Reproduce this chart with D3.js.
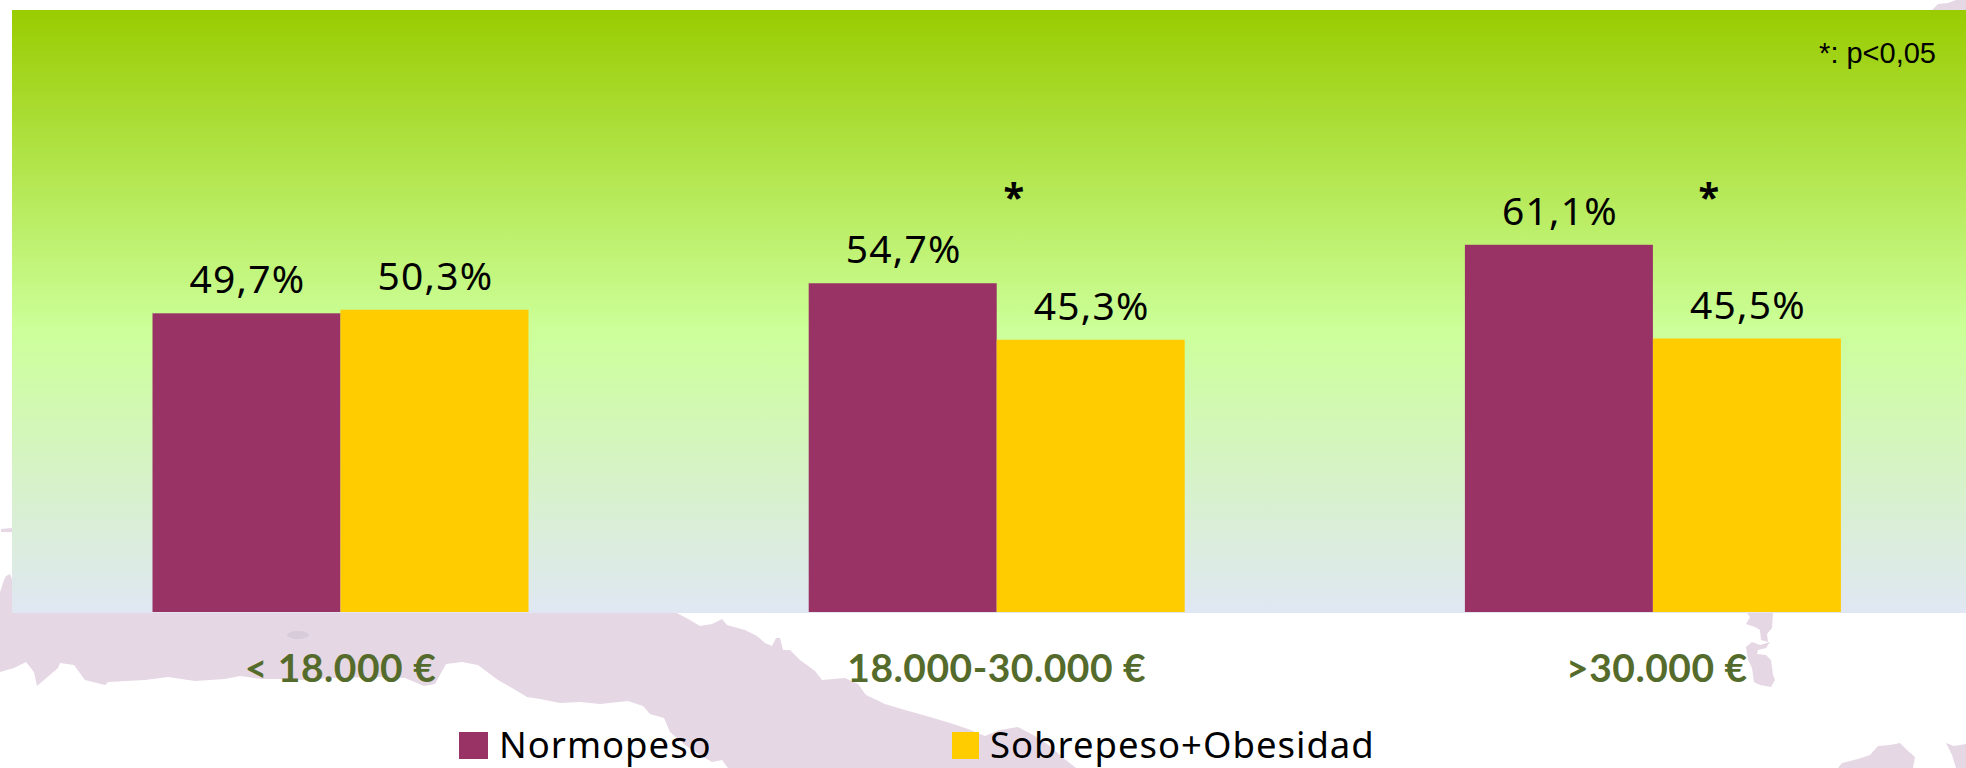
<!DOCTYPE html>
<html>
<head>
<meta charset="utf-8">
<script src="https://cdn.jsdelivr.net/npm/d3@7"></script>
<style>
	html, body { margin: 0; padding: 0; background: #fff; overflow: hidden; }
	svg { display: block; }
</style>
</head>
<body>
<div id="chart"></div>
<script>
const categories = ["< 18.000 €", "18.000-30.000 €", ">30.000 €"];
const seriesNames = ["Normopeso", "Sobrepeso+Obesidad"];
const normopeso = [49.7, 54.7, 61.1];
const sobrepeso = [50.3, 45.3, 45.5];
const seriesColors = ["#993366", "#FFCC00"];
const significant = ["18.000-30.000 €", ">30.000 €"];
const noteText = "*: p<0,05";

const width = 1966;
const height = 768;
const plotLeft = 12;
const plotTop = 10;
const plotBottom = 613;
const barBase = 612;

// watermark map behind the chart, traced by hand
const mapShapes = [
	[[0,592],[4,580],[6,576],[10,574],[13,582],[14,613],[677,613],[690,620],[700,626],[712,624],[722,619],[727,625],[745,630],[757,636],[765,643],[772,646],[776,638],[780,638],[783,650],[790,650],[800,660],[815,671],[822,680],[845,678],[858,684],[866,695],[885,704],[905,710],[930,717],[950,723],[968,729],[985,736],[1000,730],[1018,727],[1035,736],[1050,746],[1062,757],[1076,768],[728,768],[722,760],[712,762],[700,755],[685,745],[670,732],[664,718],[650,714],[643,706],[628,701],[600,704],[580,702],[560,703],[540,699],[527,697],[512,688],[498,680],[490,674],[478,665],[462,662],[446,664],[435,684],[424,686],[405,678],[380,677],[330,678],[305,680],[285,679],[262,679],[240,676],[225,679],[195,681],[168,677],[145,680],[108,682],[105,685],[85,680],[74,665],[60,663],[58,668],[44,680],[37,686],[34,672],[26,662],[14,668],[0,672]],
	[[1746,624],[1750,617],[1747,613],[1773,613],[1772,628],[1767,634],[1768,642],[1761,640],[1760,630],[1755,627]],
	[[1746,647],[1752,642],[1760,645],[1770,642],[1766,648],[1758,650],[1757,654],[1766,655],[1771,660],[1773,675],[1775,680],[1771,687],[1760,685],[1754,682],[1752,668],[1748,660]],
	[[1838,768],[1842,763],[1858,759],[1870,755],[1878,746],[1890,745],[1900,743],[1907,750],[1915,757],[1913,768]],
	[[1946,743],[1954,746],[1966,744],[1966,768],[1956,768],[1952,755]],
	[[1932,10],[1938,4],[1948,3],[1956,0],[1966,0],[1966,10]],
	[[1,529],[12,528],[12,532],[1,532]]
];

const svg = d3.select("#chart").append("svg")
	.attr("width", width)
	.attr("height", height);

const defs = svg.append("defs");

const bg = defs.append("linearGradient")
	.attr("id", "plotBg")
	.attr("x1", 0).attr("y1", 0)
	.attr("x2", 0).attr("y2", 1);
bg.append("stop").attr("offset", 0).attr("stop-color", "#99CC00");
bg.append("stop").attr("offset", 0.53).attr("stop-color", "#CCFF99");
bg.append("stop").attr("offset", 1).attr("stop-color", "#E0E7F3");

defs.append("filter").attr("id", "soft")
	.append("feGaussianBlur").attr("stdDeviation", 0.6);

svg.append("g")
	.attr("filter", "url(#soft)")
	.selectAll("path")
	.data(mapShapes)
	.enter().append("path")
		.attr("d", d3.line())
		.attr("fill", "#E5D7E4");

svg.append("ellipse")
	.attr("cx", 298).attr("cy", 635)
	.attr("rx", 11).attr("ry", 4)
	.attr("fill", "#D9CCDA")
	.attr("filter", "url(#soft)");

svg.append("rect")
	.attr("x", plotLeft)
	.attr("y", plotTop)
	.attr("width", width - plotLeft)
	.attr("height", plotBottom - plotTop)
	.attr("fill", "url(#plotBg)");

const x = d3.scaleBand()
	.domain(categories)
	.range([12.4, 1981])
	.paddingInner(0.427)
	.paddingOuter(0.2135);

const xInner = d3.scaleBand()
	.domain(seriesNames)
	.range([0, x.bandwidth()]);

const y = d3.scaleLinear()
	.domain([0, 100])
	.range([barBase, plotTop + 1]);

const series = [normopeso, sobrepeso];

const groups = svg.append("g")
	.selectAll("g")
	.data(seriesNames)
	.enter().append("g");

groups.selectAll("rect")
	.data((name, s) => categories.map((c, i) => ({ c: c, name: name, value: series[s][i], s: s })))
	.enter().append("rect")
		.attr("x", d => x(d.c) + xInner(d.name))
		.attr("y", d => y(d.value))
		.attr("width", xInner.bandwidth())
		.attr("height", d => y(0) - y(d.value))
		.attr("fill", d => seriesColors[d.s]);

groups.selectAll("text")
	.data((name, s) => categories.map((c, i) => ({ c: c, name: name, value: series[s][i] })))
	.enter().append("text")
		.attr("x", d => x(d.c) + xInner(d.name) + xInner.bandwidth() / 2 + 1)
		.attr("y", d => y(d.value) - 20)
		.attr("text-anchor", "middle")
		.attr("font-family", "'Noto Sans'")
		.attr("font-size", 39)
		.attr("letter-spacing", 1.2)
		.attr("fill", "#000")
		.text(d => d.value.toFixed(1).replace(".", ",") + "%");

// the two stars do not sit at the same spot inside their groups
const starOffset = { "18.000-30.000 €": 17, ">30.000 €": 56 };
svg.append("g")
	.selectAll("text")
	.data(significant)
	.enter().append("text")
		.attr("x", d => x(d) + x.bandwidth() / 2 + starOffset[d])
		.attr("y", 211)
		.attr("text-anchor", "middle")
		.attr("font-family", "'Noto Sans'")
		.attr("font-weight", 700)
		.attr("font-size", 38)
		.attr("fill", "#000")
		.text("*");

const xAxis = svg.append("g")
	.attr("transform", "translate(0," + barBase + ")")
	.call(d3.axisBottom(x).tickSize(0).tickPadding(42));

xAxis.select(".domain").remove();
xAxis.selectAll("text")
	.attr("dx", (d, i) => i === 2 ? 4 : 0)
	.attr("font-family", "Lato")
	.attr("font-weight", 700)
	.attr("font-size", 39)
	.attr("letter-spacing", 0.5)
	.attr("fill", "#556B2B");

svg.append("text")
	.attr("x", 1936)
	.attr("y", 63)
	.attr("text-anchor", "end")
	.attr("font-family", "'Liberation Sans'")
	.attr("font-size", 29)
	.attr("fill", "#000")
	.text(noteText);

const legendX = [459, 952];
const legend = svg.append("g")
	.selectAll("g")
	.data(seriesNames)
	.enter().append("g")
		.attr("transform", (d, i) => "translate(" + legendX[i] + ",732)");

legend.append("rect")
	.attr("width", (d, i) => i === 0 ? 29 : 27)
	.attr("height", 27)
	.attr("fill", (d, i) => seriesColors[i]);

legend.append("text")
	.attr("x", (d, i) => i === 0 ? 40 : 38)
	.attr("y", 26)
	.attr("font-family", "'Noto Sans'")
	.attr("font-size", 36.5)
	.attr("letter-spacing", 1)
	.attr("fill", "#000")
	.text(d => d);
</script>
</body>
</html>
